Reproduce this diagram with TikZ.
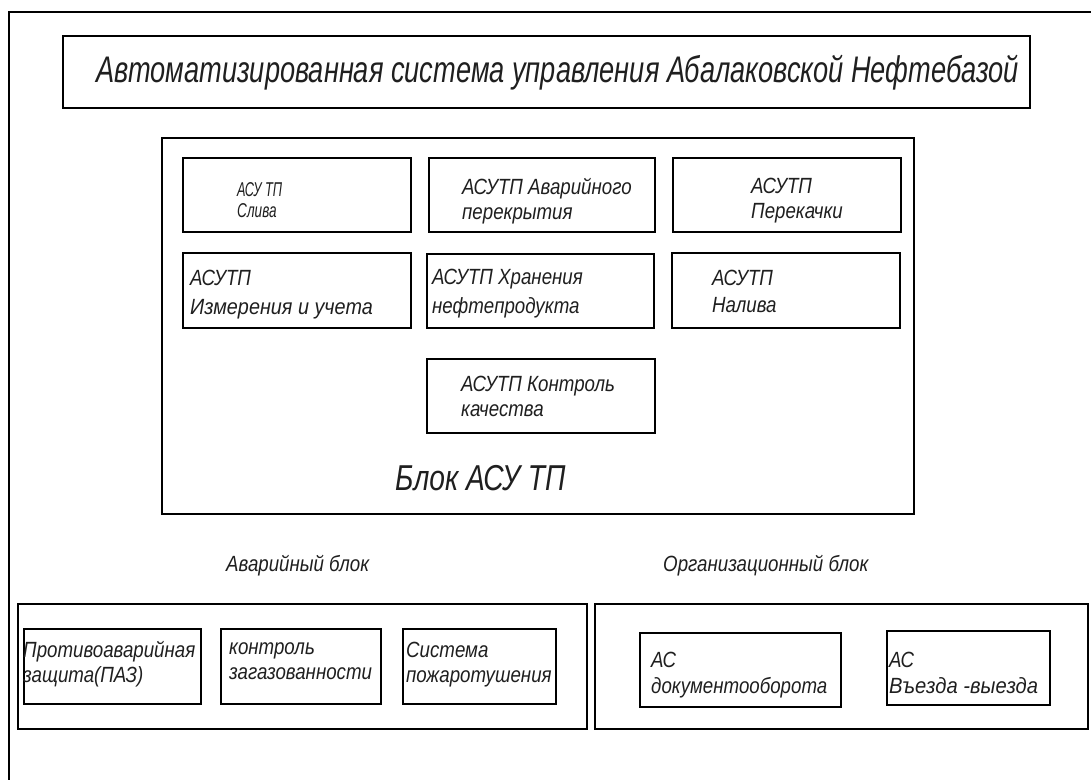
\documentclass[tikz,border=0pt]{standalone}
\usepackage{graphicx}
\usepackage{fontspec}
\setmainfont{Liberation Sans}
\newfontfamily\gost{Liberation Sans}[FakeStretch=0.85]
\colorlet{ink}{black!88}
\tikzset{
  frameline/.style={line width=1.2pt},
  box/.style={draw, line width=1.6pt, anchor=north west, inner sep=0pt},
  txt/.style={anchor=north west, inner sep=0pt, align=left, text=ink,
    font=\gost\itshape\fontsize{22}{#1}\selectfont},
  txt/.default=27,
  smalltxt/.style={anchor=north west, inner sep=0pt, align=left, text=ink,
    font=\gost\itshape\fontsize{20}{21}\selectfont},
  headtxt/.style={anchor=base west, inner sep=0pt, text=ink,
    font=\gost\itshape\fontsize{#1}{#1}\selectfont},
}
\begin{document}
\begin{tikzpicture}[x=1pt,y=-1pt]
\useasboundingbox (0,0) rectangle (1091,780);
% page frame
\coordinate (fa) at (1091,12);
\coordinate (fb) at (9,12);
\coordinate (fc) at (9,780);
\draw[frameline] (fa) -- (fb) -- (fc);

% title
\node[box, minimum width=967pt, minimum height=72pt] (title) at (62,35) {};
\node[headtxt=37] (titletxt) at (96,82) {\scalebox{0.865}[1]{Автоматизированная система управления Абалаковской Нефтебазой}};

% main block
\node[box, minimum width=752pt, minimum height=376pt] (main) at (161,137) {};
\node[box, minimum width=228pt, minimum height=74pt] (b1) at (182,157) {};
\node[box, minimum width=226pt, minimum height=74pt] (b2) at (428,157) {};
\node[box, minimum width=228pt, minimum height=74pt] (b3) at (672,157) {};
\node[box, minimum width=228pt, minimum height=75pt] (b4) at (182,252) {};
\node[box, minimum width=227pt, minimum height=74pt] (b5) at (426,253) {};
\node[box, minimum width=228pt, minimum height=75pt] (b6) at (671,252) {};
\node[box, minimum width=228pt, minimum height=74pt] (b7) at (426,358) {};

\node[smalltxt] (t1) at (237,182) {\scalebox{0.75}[1]{АСУ ТП}\\\scalebox{0.8}[1]{Слива}};
\node[txt=25] (t2) at (462,178) {АСУТП Аварийного\\перекрытия};
\node[txt=25] (t3) at (751,178) {АСУТП\\Перекачки};
\node[txt=29] (t4) at (190,270) {АСУТП\\\scalebox{1.06}[1]{Измерения и учета}};
\node[txt=29] (t5) at (432,269) {АСУТП Хранения\\нефтепродукта};
\node[txt=27] (t6) at (712,270) {АСУТП\\Налива};
\node[txt=25] (t7) at (461,376) {АСУТП Контроль\\качества};
\node[headtxt=36] (blk) at (395,490) {\scalebox{0.92}[1]{Блок АСУ ТП}};

% section labels
\node[headtxt=22] (avlbl) at (226,571) {Аварийный блок};
\node[headtxt=22] (orglbl) at (663,571) {Организационный блок};

% emergency block
\node[box, minimum width=569pt, minimum height=125pt] (av) at (17,603) {};
\node[box, minimum width=177pt, minimum height=75pt] (c1) at (23,628) {};
\node[box, minimum width=160pt, minimum height=75pt] (c2) at (220,628) {};
\node[box, minimum width=153pt, minimum height=75pt] (c3) at (402,628) {};
\node[txt=25] (u1) at (23,641) {Противоаварийная\\защита(ПАЗ)};
\node[txt=25] (u2) at (229,642) {контроль\\загазованности};
\node[txt=25] (u3) at (406,642) {Система\\пожаротушения};

% organisational block
\node[box, minimum width=493pt, minimum height=125pt] (org) at (594,603) {};
\node[box, minimum width=201pt, minimum height=74pt] (d1) at (639,632) {};
\node[box, minimum width=163pt, minimum height=74pt] (d2) at (886,630) {};
\node[txt=26] (v1) at (651,652) {АС\\документооборота};
\node[txt=26] (v2) at (889,652) {АС\\\scalebox{1.08}[1]{Въезда -выезда}};
\end{tikzpicture}
\end{document}
